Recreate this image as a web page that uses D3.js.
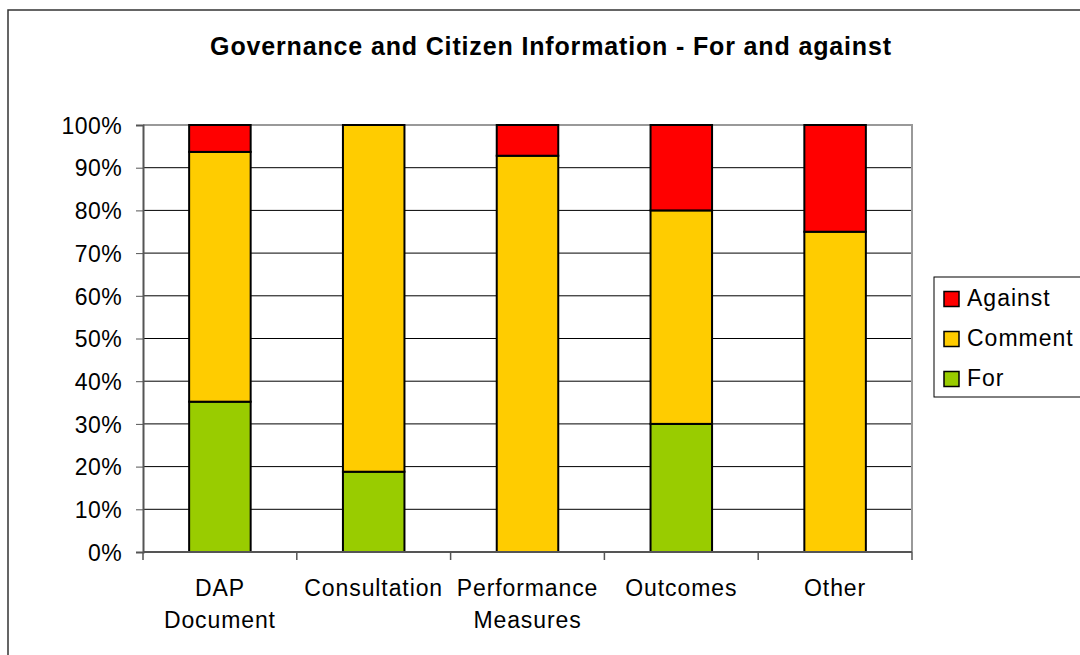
<!DOCTYPE html>
<html lang="en">
<head>
  <meta charset="utf-8">
  <title>Governance and Citizen Information</title>
  <script src="https://cdnjs.cloudflare.com/ajax/libs/d3/7.8.5/d3.min.js"></script>
  <style>
    body { margin: 0; background: #fff; }
    svg { display: block; font-family: "Liberation Sans", Arial, sans-serif; }
  </style>
</head>
<body>
  <div id="chart"></div>
  <script>
    // Data (percent of responses)
    var categories = ["DAP Document", "Consultation", "Performance Measures", "Outcomes", "Other"];
    var forValues = [35.2, 18.8, 0, 30, 0];
    var commentValues = [58.5, 81.2, 92.8, 50, 75];
    var againstValues = [6.3, 0, 7.2, 20, 25];
    var seriesKeys = ["For", "Comment", "Against"];
    var seriesColors = { For: "#99cc00", Comment: "#ffcc00", Against: "#ff0000" };
    var yTicks = [0, 0.1, 0.2, 0.3, 0.4, 0.5, 0.6, 0.7, 0.8, 0.9, 1];

    var table = categories.map(function (c, i) {
      return { cat: c, For: forValues[i] / 100, Comment: commentValues[i] / 100, Against: againstValues[i] / 100 };
    });

    var W = 1080, H = 655;
    var plot = { left: 143, right: 912, top: 125, bottom: 552 };

    var svg = d3.select("#chart").append("svg")
      .attr("width", W)
      .attr("height", H);

    // outer chart frame (runs off the right and bottom edges)
    svg.append("rect")
      .attr("x", 8).attr("y", 10)
      .attr("width", W + 20).attr("height", H + 20)
      .attr("fill", "none")
      .attr("stroke", "#333")
      .attr("stroke-width", 1.5);

    svg.append("text")
      .attr("x", 551).attr("y", 55)
      .attr("text-anchor", "middle")
      .style("font-size", "25px")
      .style("font-weight", "bold")
      .style("letter-spacing", "0.85px")
      .text("Governance and Citizen Information - For and against");

    var x = d3.scaleBand()
      .domain(categories)
      .range([plot.left, plot.right])
      .paddingInner(0.6)
      .paddingOuter(0.3);

    var y = d3.scaleLinear()
      .domain([0, 1])
      .range([plot.bottom, plot.top]);

    // gridlines
    svg.append("g")
      .selectAll("line")
      .data(yTicks.filter(function (t) { return t > 0 && t < 1; }))
      .join("line")
      .attr("x1", plot.left).attr("x2", plot.right)
      .attr("y1", function (d) { return y(d); })
      .attr("y2", function (d) { return y(d); })
      .attr("stroke", "#000")
      .attr("stroke-width", 1);

    // plot frame top/right in grey
    svg.append("path")
      .attr("d", "M" + plot.left + "," + y(1) + "H" + plot.right + "V" + plot.bottom)
      .attr("fill", "none")
      .attr("stroke", "#999")
      .attr("stroke-width", 2);

    // stacked bars
    var stacked = d3.stack().keys(seriesKeys)(table);
    svg.append("g")
      .selectAll("g")
      .data(stacked)
      .join("g")
      .attr("fill", function (s) { return seriesColors[s.key]; })
      .selectAll("rect")
      .data(function (s) { return s.filter(function (d) { return d[1] - d[0] > 0; }); })
      .join("rect")
      .attr("x", function (d) { return x(d.data.cat); })
      .attr("y", function (d) { return y(d[1]); })
      .attr("width", x.bandwidth())
      .attr("height", function (d) { return y(d[0]) - y(d[1]); })
      .attr("stroke", "#000")
      .attr("stroke-width", 2);

    // y axis
    var yAxis = svg.append("g")
      .attr("transform", "translate(" + plot.left + ",0)")
      .call(d3.axisLeft(y).tickValues(yTicks).tickFormat(d3.format(".0%")).tickSize(7).tickPadding(14));
    yAxis.select(".domain").attr("stroke", "#555").attr("stroke-width", 2);
    yAxis.selectAll(".tick line").attr("stroke", "#555");
    yAxis.selectAll("text")
      .style("font-size", "23px")
      .style("letter-spacing", "0.4px")
      .style("font-family", "'Liberation Sans', Arial, sans-serif")
      .attr("fill", "#000")
      .attr("dy", "0.36em");

    // x axis line with ticks at category boundaries
    var bounds = categories.map(function (c) { return x(c) - x.step() * x.paddingOuter(); });
    bounds.push(plot.right);
    svg.append("line")
      .attr("x1", plot.left).attr("x2", plot.right)
      .attr("y1", plot.bottom).attr("y2", plot.bottom)
      .attr("stroke", "#555").attr("stroke-width", 2);
    svg.append("g")
      .selectAll("line")
      .data(bounds)
      .join("line")
      .attr("x1", function (d) { return d; }).attr("x2", function (d) { return d; })
      .attr("y1", plot.bottom).attr("y2", plot.bottom + 8)
      .attr("stroke", "#555").attr("stroke-width", 1.5);

    // category labels, wrapped at spaces
    var lbl = svg.append("g")
      .selectAll("text")
      .data(categories)
      .join("text")
      .attr("x", function (d) { return x(d) + x.bandwidth() / 2; })
      .attr("y", 596)
      .attr("text-anchor", "middle")
      .style("font-size", "23px")
      .style("letter-spacing", "0.9px");
    lbl.each(function (d) {
      var words = d.split(" ");
      var t = d3.select(this);
      words.forEach(function (w, i) {
        t.append("tspan")
          .attr("x", x(d) + x.bandwidth() / 2)
          .attr("dy", i === 0 ? 0 : 32)
          .text(w);
      });
    });

    // legend
    var legendKeys = ["Against", "Comment", "For"];
    var lg = svg.append("g");
    lg.append("rect")
      .attr("x", 934).attr("y", 277)
      .attr("width", 200).attr("height", 120)
      .attr("fill", "#fff")
      .attr("stroke", "#000")
      .attr("stroke-width", 1);
    var items = lg.selectAll("g")
      .data(legendKeys)
      .join("g")
      .attr("transform", function (d, i) { return "translate(944," + (299 + i * 40) + ")"; });
    items.append("rect")
      .attr("x", 0).attr("y", -7.5)
      .attr("width", 15).attr("height", 15)
      .attr("fill", function (d) { return seriesColors[d]; })
      .attr("stroke", "#000")
      .attr("stroke-width", 1.5);
    items.append("text")
      .attr("x", 23).attr("y", 7)
      .style("font-size", "23px")
      .style("letter-spacing", "1px")
      .text(function (d) { return d; });
  </script>
</body>
</html>
